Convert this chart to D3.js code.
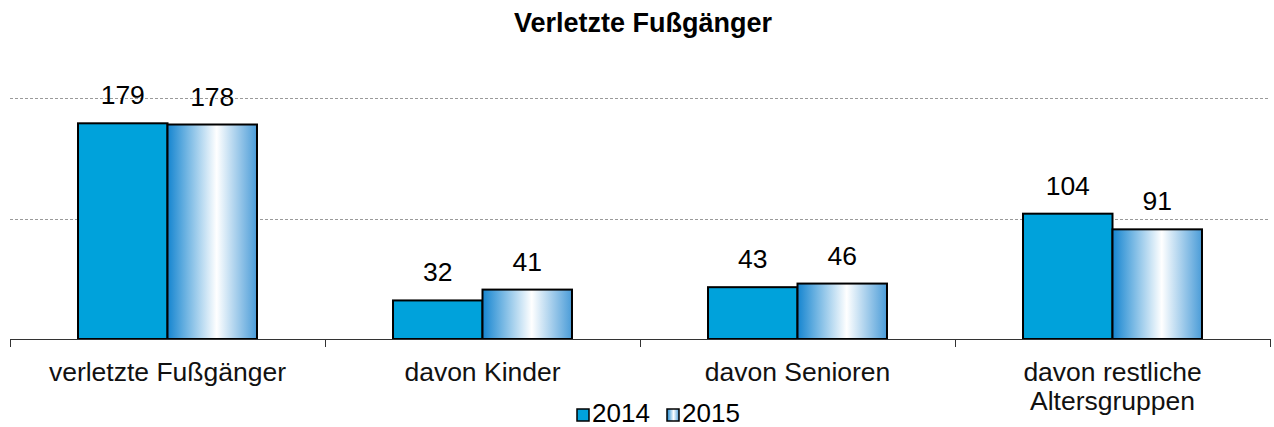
<!DOCTYPE html>
<html>
<head>
<meta charset="utf-8">
<script src="https://cdn.jsdelivr.net/npm/d3@7"></script>
<style>
  body { margin: 0; background: #fff; }
  svg { display: block; font-family: "Liberation Sans", Arial, sans-serif; }
</style>
</head>
<body>
<div id="plot"></div>
<script>
// chart data
const categories = ["verletzte Fußgänger", "davon Kinder", "davon Senioren", "davon restliche Altersgruppen"];
const categoryLines = [["verletzte Fußgänger"], ["davon Kinder"], ["davon Senioren"], ["davon restliche", "Altersgruppen"]];
const years = ["2014", "2015"];
const values2014 = [179, 32, 43, 104];
const values2015 = [178, 41, 46, 91];
const gridValues = [100, 200];

const width = 1274;
const height = 427;
const baseY = 339;

const svg = d3.select("div#plot")
    .append("svg")
    .attr("width", width)
    .attr("height", height);

// gradient for 2015 bars
const defs = svg.append("defs");
const grad = defs.append("linearGradient")
    .attr("id", "grad2015")
    .attr("x1", "0%").attr("x2", "100%")
    .attr("y1", "0%").attr("y2", "0%");
grad.append("stop").attr("offset", "0%").attr("stop-color", "#1585d0");
grad.append("stop").attr("offset", "55%").attr("stop-color", "#ffffff");
grad.append("stop").attr("offset", "100%").attr("stop-color", "#4a9cd8");

const fills = { "2014": "#00a2db", "2015": "url(#grad2015)" };

const x0 = d3.scaleBand()
    .domain(categories)
    .range([10, 1270])
    .padding(0);

const x1 = d3.scaleBand()
    .domain(years)
    .range([0, x0.bandwidth()])
    .paddingInner(0)
    .paddingOuter(0.76);

const y = d3.scaleLinear()
    .domain([0, 200])
    .range([baseY, 98]);

// title
svg.append("text")
    .attr("x", 643)
    .attr("y", 32)
    .attr("text-anchor", "middle")
    .style("font-size", "27px")
    .style("font-weight", "bold")
    .text("Verletzte Fußgänger");

// gridlines
svg.append("g")
    .selectAll("line")
    .data(gridValues)
    .enter()
    .append("line")
    .attr("x1", 10)
    .attr("x2", 1270)
    .attr("y1", d => Math.round(y(d)) + 0.5)
    .attr("y2", d => Math.round(y(d)) + 0.5)
    .style("stroke", "#9a9a9a")
    .style("stroke-width", 1)
    .style("stroke-dasharray", "3,2");

// bars
const rows = categories.map((c, i) => ({ cat: c, vals: [values2014[i], values2015[i]] }));

const groups = svg.append("g")
    .selectAll("g")
    .data(rows)
    .enter()
    .append("g")
    .attr("transform", d => "translate(" + x0(d.cat) + ",0)");

groups.selectAll("rect")
    .data(d => years.map((yr, j) => ({ year: yr, value: d.vals[j] })))
    .enter()
    .append("rect")
    .attr("x", d => x1(d.year))
    .attr("y", d => y(d.value))
    .attr("width", x1.bandwidth())
    .attr("height", d => baseY - y(d.value))
    .attr("fill", d => fills[d.year])
    .style("stroke", "#000")
    .style("stroke-width", 2);

groups.selectAll("text")
    .data(d => years.map((yr, j) => ({ year: yr, value: d.vals[j] })))
    .enter()
    .append("text")
    .attr("x", d => x1(d.year) + x1.bandwidth() / 2)
    .attr("y", d => y(d.value) - 19)
    .attr("text-anchor", "middle")
    .style("font-size", "26.5px")
    .text(d => d.value);

// x axis
const axis = svg.append("g");
axis.append("line")
    .attr("x1", 10).attr("x2", 1270)
    .attr("y1", baseY + 0.5).attr("y2", baseY + 0.5)
    .style("stroke", "#333")
    .style("stroke-width", 1);

const tickXs = categories.map(c => x0(c)).concat([x0(categories[categories.length - 1]) + x0.bandwidth()]);
axis.selectAll("line.tick")
    .data(tickXs)
    .enter()
    .append("line")
    .attr("class", "tick")
    .attr("x1", d => Math.round(d) + 0.5)
    .attr("x2", d => Math.round(d) + 0.5)
    .attr("y1", baseY)
    .attr("y2", baseY + 8)
    .style("stroke", "#333")
    .style("stroke-width", 1);

const labels = axis.selectAll("text")
    .data(categories)
    .enter()
    .append("text")
    .attr("text-anchor", "middle")
    .style("font-size", "26.5px")
    .style("fill", "#111");

labels.each(function(d, i) {
    const t = d3.select(this);
    categoryLines[i].forEach((line, k) => {
        t.append("tspan")
            .attr("x", x0(d) + x0.bandwidth() / 2)
            .attr("y", 381 + k * 29)
            .text(line);
    });
});

// legend
const legend = svg.append("g");
const legendX = [577, 667];
years.forEach((yr, i) => {
    legend.append("rect")
        .attr("x", legendX[i])
        .attr("y", 409)
        .attr("width", 12)
        .attr("height", 12)
        .attr("fill", fills[yr])
        .style("stroke", "#000")
        .style("stroke-width", 1.5);
    legend.append("text")
        .attr("x", legendX[i] + 15)
        .attr("y", 422)
        .style("font-size", "26px")
        .text(yr);
});
</script>
</body>
</html>
